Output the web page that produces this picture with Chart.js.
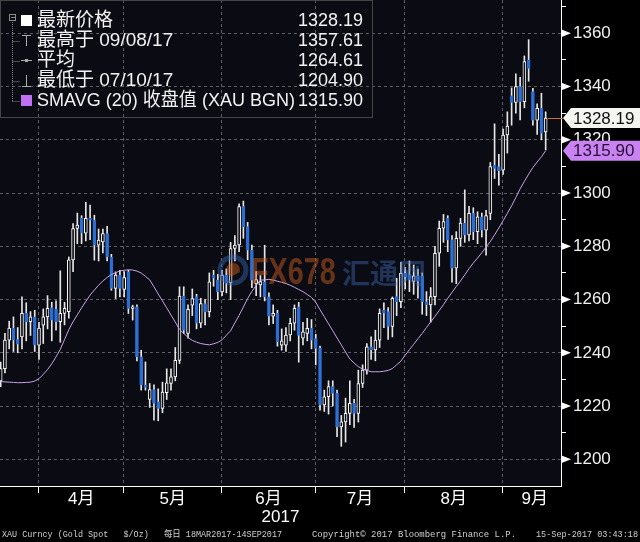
<!DOCTYPE html>
<html>
<head>
<meta charset="utf-8">
<script src="https://cdn.jsdelivr.net/npm/chart.js@4.4.0/dist/chart.umd.min.js"></script>
<style>
  html, body { margin: 0; padding: 0; background: #000; }
  #wrap { width: 640px; height: 542px; position: relative; }
</style>
</head>
<body>
<div id="wrap"><canvas id="myChart"></canvas></div>
<script>
// trading days 18MAR2017 - 14SEP2017
const days = [
  '03/20','03/21','03/22','03/23','03/24','03/27','03/28','03/29','03/30','03/31',
  '04/03','04/04','04/05','04/06','04/07','04/10','04/11','04/12','04/13','04/14',
  '04/17','04/18','04/19','04/20','04/21','04/24','04/25','04/26','04/27','04/28',
  '05/01','05/02','05/03','05/04','05/05','05/08','05/09','05/10','05/11','05/12',
  '05/15','05/16','05/17','05/18','05/19','05/22','05/23','05/24','05/25','05/26',
  '05/29','05/30','05/31',
  '06/01','06/02','06/05','06/06','06/07','06/08','06/09','06/12','06/13','06/14',
  '06/15','06/16','06/19','06/20','06/21','06/22','06/23','06/26','06/27','06/28',
  '06/29','06/30',
  '07/03','07/04','07/05','07/06','07/07','07/10','07/11','07/12','07/13','07/14',
  '07/17','07/18','07/19','07/20','07/21','07/24','07/25','07/26','07/27','07/28','07/31',
  '08/01','08/02','08/03','08/04','08/07','08/08','08/09','08/10','08/11','08/14',
  '08/15','08/16','08/17','08/18','08/21','08/22','08/23','08/24','08/25','08/28',
  '08/29','08/30','08/31',
  '09/01','09/04','09/05','09/06','09/07','09/08','09/11','09/12','09/13','09/14'
];

const opens = [
  1229.5,1234.1,1244.8,1249.3,1245.0,1246.0,1254.8,1251.7,1253.5,1242.9,
  1250.4,1253.5,1257.0,1256.4,1251.7,1254.8,1255.5,1274.9,1286.7,1290.5,
  1284.9,1290.5,1289.8,1280.4,1281.7,1284.8,1276.0,1264.2,1269.2,1263.8,
  1270.4,1256.7,1257.3,1238.5,1227.9,1222.5,1226.2,1221.6,1219.1,1225.0,
  1228.5,1231.0,1237.2,1261.3,1247.3,1257.9,1261.1,1251.1,1258.5,1255.4,
  1269.2,1267.3,1262.9,
  1269.2,1266.3,1279.2,1280.5,1294.9,1287.4,1278.6,1266.0,1265.5,1266.7,
  1261.0,1253.8,1254.8,1242.9,1242.9,1246.7,1251.1,1257.3,1245.5,1247.3,
  1249.2,1245.4,
  1241.7,1220.4,1223.5,1227.3,1224.8,1212.2,1214.1,1217.3,1221.0,1217.3,
  1228.5,1233.5,1242.3,1241.1,1244.8,1256.1,1255.5,1249.9,1261.1,1259.2,1269.9,
  1269.3,1266.8,1268.9,1268.9,1259.2,1258.0,1261.1,1277.4,1286.8,1290.5,
  1282.4,1271.8,1283.0,1288.7,1284.3,1292.4,1285.5,1291.1,1286.1,1292.4,
  1310.5,1309.9,1308.6,
  1321.8,1336.5,1334.0,1340.0,1334.3,1350.0,1338.1,1327.4,1331.8,1323.0
];
const highs = [
  1236.5,1247.3,1251.9,1253.5,1249.5,1261.0,1258.8,1255.5,1256.0,1251.5,
  1256.5,1261.5,1259.0,1259.5,1270.8,1259.0,1276.0,1288.5,1292.5,1291.5,
  1296.5,1295.5,1291.7,1286.5,1286.5,1287.5,1277.0,1270.4,1271.0,1270.5,
  1271.0,1257.9,1258.0,1241.0,1236.6,1228.5,1228.0,1226.5,1229.0,1234.0,
  1234.0,1242.0,1264.8,1264.8,1258.0,1264.0,1262.0,1260.5,1260.0,1270.0,
  1271.0,1269.5,1271.0,
  1271.5,1281.5,1284.0,1296.0,1297.0,1289.0,1280.5,1270.5,1269.0,1280.4,
  1262.5,1258.0,1256.0,1249.0,1249.5,1253.0,1258.0,1259.0,1251.5,1253.0,
  1252.5,1247.0,
  1242.5,1226.0,1229.5,1229.5,1226.0,1216.5,1223.0,1229.5,1222.5,1233.5,
  1235.5,1243.5,1246.0,1248.5,1256.5,1258.8,1257.0,1261.0,1268.0,1274.0,1272.0,
  1274.5,1273.0,1271.5,1270.0,1263.0,1264.5,1280.0,1289.5,1292.0,1291.5,
  1284.0,1285.5,1290.5,1301.2,1295.0,1294.5,1293.0,1292.5,1293.5,1311.5,
  1326.0,1314.5,1324.0,
  1330.5,1339.5,1344.8,1343.5,1351.5,1357.61,1339.3,1333.5,1337.5,1330.5
];
const lows = [
  1227.3,1232.5,1241.5,1240.5,1240.0,1241.5,1244.5,1246.5,1240.5,1237.5,
  1243.5,1249.0,1244.5,1248.5,1244.0,1250.5,1253.0,1270.5,1281.0,1281.0,
  1282.0,1282.5,1274.8,1274.5,1277.5,1274.5,1263.5,1260.4,1261.0,1261.0,
  1254.8,1252.3,1237.0,1226.0,1226.0,1219.5,1214.7,1214.5,1217.5,1222.5,
  1226.0,1229.5,1236.0,1247.3,1245.5,1254.0,1249.0,1249.5,1250.5,1253.5,
  1265.0,1260.0,1261.5,
  1262.5,1260.0,1274.5,1278.0,1283.0,1275.0,1264.5,1261.5,1261.0,1259.5,
  1250.5,1251.0,1242.5,1241.0,1240.5,1244.5,1248.5,1236.5,1243.0,1244.5,
  1241.5,1235.5,
  1218.5,1218.0,1217.0,1220.0,1208.5,1204.9,1206.5,1213.0,1212.0,1214.0,
  1227.0,1232.0,1237.5,1237.0,1242.0,1249.5,1245.0,1246.0,1254.0,1257.0,1264.0,
  1263.0,1262.0,1260.5,1254.5,1254.0,1251.5,1258.0,1272.5,1281.5,1278.0,
  1266.5,1266.0,1280.0,1281.5,1282.0,1282.5,1281.0,1283.5,1276.7,1290.0,
  1305.5,1303.0,1307.0,
  1315.0,1325.5,1330.0,1327.5,1332.0,1342.0,1325.5,1322.0,1320.0,1316.2
];
const closes = [
  1234.1,1244.8,1249.3,1244.8,1243.3,1254.8,1251.7,1253.5,1242.9,1249.3,
  1253.5,1256.7,1252.3,1251.7,1254.8,1256.7,1274.9,1286.7,1288.0,1284.9,
  1290.5,1289.8,1280.4,1282.3,1284.8,1276.0,1264.2,1269.2,1264.2,1268.3,
  1256.7,1257.3,1238.5,1227.9,1227.0,1226.2,1221.0,1219.1,1225.3,1228.7,
  1231.0,1237.2,1261.3,1248.5,1256.3,1260.4,1251.1,1258.5,1255.4,1266.7,
  1268.0,1262.9,1269.2,
  1266.3,1279.2,1280.5,1294.9,1287.4,1278.6,1267.3,1267.5,1266.8,1261.0,
  1253.8,1254.8,1244.1,1244.5,1246.7,1251.1,1256.7,1246.5,1247.9,1249.2,
  1244.8,1241.7,
  1220.4,1223.5,1227.3,1224.8,1212.2,1214.1,1217.3,1221.0,1217.3,1228.5,
  1233.5,1242.3,1241.1,1244.8,1254.8,1254.9,1249.9,1260.5,1259.2,1269.9,1268.6,
  1267.4,1268.9,1266.8,1259.2,1258.0,1261.1,1277.4,1286.8,1289.3,1282.4,
  1271.8,1283.0,1288.7,1284.3,1292.4,1285.5,1291.1,1286.1,1291.5,1309.9,
  1309.3,1308.4,1321.8,
  1325.2,1334.0,1340.0,1334.3,1349.4,1346.8,1327.4,1331.8,1322.4,1328.19
];
// SMAVG (20)
const sma20 = [
  1229.2,1229.1,1229.0,1228.9,1228.8,1228.8,1228.9,1229.0,1229.4,1230.3,
  1231.9,1233.7,1235.9,1238.5,1241.3,1245.0,1248.7,1251.7,1254.3,1256.9,
  1259.3,1261.7,1263.6,1265.4,1267.0,1268.3,1269.4,1270.1,1270.8,1271.0,
  1271.2,1271.1,1270.7,1270.0,1268.7,1267.4,1264.8,1262.1,1259.5,1256.9,
  1254.2,1251.6,1248.8,1247.3,1245.8,1244.7,1244.0,1243.5,1243.2,1243.0,
  1243.4,1243.9,1244.9,
  1246.6,1248.3,1251.2,1254.1,1257.2,1260.4,1263.1,1265.3,1267.3,1267.4,
  1267.6,1267.3,1266.9,1266.5,1266.0,1265.4,1264.6,1263.8,1263.0,1261.9,
  1260.8,1259.0,
  1256.2,1253.6,1250.9,1248.3,1245.6,1243.0,1240.3,1237.7,1236.2,1234.8,
  1233.9,1233.4,1232.9,1232.9,1232.9,1233.1,1233.4,1234.1,1235.5,1236.9,1239.1,
  1241.2,1243.2,1245.3,1247.3,1249.5,1251.6,1253.7,1255.9,1258.1,1260.5,
  1262.7,1264.9,1267.0,1269.3,1271.6,1273.7,1275.6,1277.6,1279.7,1281.8,
  1284.3,1286.9,1289.6,
  1292.4,1295.2,1298.4,1301.6,1304.4,1307.1,1309.6,1311.7,1313.6,1315.9
];

const monthNums = ['04','05','06','07','08','09'];
const monthLabels = ['4月','5月','6月','7月','8月','9月'];
const yTickValues = [1200,1210,1220,1230,1240,1250,1260,1270,1280,1290,1300,1310,1320,1330,1340,1350,1360,1370];

const legendLabels = ['最新价格','最高于 09/08/17','平均','最低于 07/10/17','SMAVG (20) 收盘值 (XAU BGN)'];
const legendValues = ['1328.19','1357.61','1264.61','1204.90','1315.90'];

const footer = ['XAU Curncy (Gold Spot   $/Oz)   每日 18MAR2017-14SEP2017',
                'Copyright© 2017 Bloomberg Finance L.P.',
                '15-Sep-2017 03:43:18'];

const SANS = '"Liberation Sans", "Noto Sans CJK SC", sans-serif';
const PLOT_BG = '#0b0b13';
const BLUE = '#2b6fd4';
const MA_COLOR = '#c9a2e8';
const TAG_PURPLE = '#c883f0';

const X_MIN = -0.16, X_MAX = 131.6;

// month boundaries sit on the last trading day of the previous month
const monthGrid = monthNums.map(m => days.findIndex(d => d.startsWith(m)) - 1.1);
const monthMid = monthGrid.map((g, i) => i < monthGrid.length - 1 ? (g + monthGrid[i + 1]) / 2 : (g + days.length + 4) / 2);

const wickData = days.map((d, i) => ({x: i, y: [lows[i], highs[i]]}));
const bodyData = days.map((d, i) => ({x: i, y: [opens[i], closes[i]]}));
const smaData = days.map((d, i) => ({x: i, y: sma20[i]}));
const isUp = i => closes[i] >= opens[i];

const backdrop = {
  id: 'backdrop',
  beforeDraw(chart) {
    const {ctx, chartArea: a} = chart;
    ctx.save();
    ctx.fillStyle = '#000';
    ctx.fillRect(0, 0, chart.width, chart.height);
    ctx.fillStyle = PLOT_BG;
    ctx.fillRect(a.left, a.top, a.right - a.left, a.bottom - a.top);
    ctx.restore();
  }
};

const watermark = {
  id: 'watermark',
  afterDatasetsDraw(chart) {
    const ctx = chart.ctx;
    ctx.save();
    ctx.globalAlpha = 0.45;
    ctx.strokeStyle = '#3566b4';
    ctx.lineWidth = 5;
    ctx.beginPath(); ctx.arc(233, 270, 13, 0, Math.PI * 2); ctx.stroke();
    ctx.fillStyle = '#d8641e';
    ctx.beginPath(); ctx.arc(233, 270, 7, Math.PI * 0.6, Math.PI * 2.1); ctx.fill();
    ctx.font = 'bold 36px "Liberation Sans"';
    ctx.textBaseline = 'alphabetic';
    ctx.translate(251, 284);
    ctx.scale(0.8, 1);
    ctx.fillText('FX678', 0, 0);
    ctx.setTransform(1, 0, 0, 1, 0, 0);
    ctx.fillStyle = '#3a68b0';
    ctx.font = 'bold 28px "Noto Sans CJK SC"';
    ctx.fillText('汇通网', 342, 284);
    ctx.restore();
  }
};

const overlay = {
  id: 'overlay',
  afterDraw(chart) {
    const ctx = chart.ctx;
    const y = chart.scales.y;
    const x = chart.scales.x;
    const axisX = chart.chartArea.right;
    ctx.save();

    // triangles on labelled ticks
    ctx.fillStyle = '#fff';
    yTickValues.filter(v => v % 20 === 0).forEach(v => {
      const py = y.getPixelForValue(v);
      ctx.beginPath();
      ctx.moveTo(axisX, py - 4); ctx.lineTo(axisX + 10, py); ctx.lineTo(axisX, py + 4);
      ctx.closePath(); ctx.fill();
    });

    // last price line + tags
    const last = days.length - 1;
    const pyLast = Math.round(y.getPixelForValue(closes[last])) + 0.5;
    ctx.strokeStyle = '#d2701e';
    ctx.lineWidth = 1;
    ctx.beginPath(); ctx.moveTo(x.getPixelForValue(last) + 2, pyLast); ctx.lineTo(axisX + 2, pyLast); ctx.stroke();

    const tag = (val, fill, textColor) => {
      const py = y.getPixelForValue(val);
      ctx.fillStyle = fill;
      ctx.beginPath();
      ctx.moveTo(axisX + 2, py);
      ctx.lineTo(axisX + 10, py - 10);
      ctx.lineTo(640, py - 10);
      ctx.lineTo(640, py + 10);
      ctx.lineTo(axisX + 10, py + 10);
      ctx.closePath(); ctx.fill();
      ctx.fillStyle = textColor;
      ctx.font = '17px ' + SANS;
      ctx.textBaseline = 'middle';
      ctx.textAlign = 'left';
      ctx.fillText(val.toFixed(2), axisX + 12, py + 1);
    };
    tag(closes[last], '#f4f4f0', '#111');
    tag(sma20[last], TAG_PURPLE, '#2a0c3a');

    // legend box
    ctx.strokeStyle = '#454545';
    ctx.strokeRect(0.5, 0.5, 372, 117);
    ctx.strokeStyle = '#8a8a8a';
    ctx.setLineDash([1, 1]);
    ctx.beginPath();
    ctx.moveTo(12.5, 22); ctx.lineTo(12.5, 101);
    [41, 61, 81, 101].forEach(r => { ctx.moveTo(12.5, r + 0.5); ctx.lineTo(20, r + 0.5); });
    ctx.stroke();
    ctx.setLineDash([]);
    ctx.strokeRect(9.5, 14.5, 6, 6);
    ctx.beginPath(); ctx.moveTo(11, 17.5); ctx.lineTo(15, 17.5); ctx.stroke();
    ctx.fillStyle = '#fff';
    ctx.fillRect(21, 15, 11, 11);
    ctx.strokeStyle = '#aaa';
    ctx.beginPath();
    ctx.moveTo(22, 35.5); ctx.lineTo(31, 35.5); ctx.moveTo(26.5, 35); ctx.lineTo(26.5, 46);
    ctx.moveTo(21, 60.5); ctx.lineTo(32, 60.5);
    ctx.moveTo(26.5, 75); ctx.lineTo(26.5, 86); ctx.moveTo(22, 86.5); ctx.lineTo(31, 86.5);
    ctx.stroke();
    ctx.fillStyle = '#aaa';
    ctx.fillRect(25, 59, 3, 3);
    ctx.fillStyle = '#c070f0';
    ctx.fillRect(21, 95, 11, 11);

    ctx.textBaseline = 'middle';
    ctx.fillStyle = '#f2f2f2';
    legendLabels.forEach((t, i) => {
      const ry = 21 + i * 20;
      ctx.font = '19px ' + SANS;
      ctx.textAlign = 'left';
      ctx.fillText(t, 37, ry, 258);
      ctx.font = '18px ' + SANS;
      ctx.textAlign = 'right';
      ctx.fillText(legendValues[i], 363, ry);
    });

    // footer
    ctx.fillStyle = '#cfcfcf';
    ctx.font = '9px "Liberation Mono", "Noto Sans CJK SC", monospace';
    ctx.textBaseline = 'middle';
    ctx.textAlign = 'left';
    ctx.fillText(footer[0], 2, 535, 280);
    ctx.fillText(footer[1], 312, 535, 204);
    ctx.textAlign = 'right';
    ctx.fillText(footer[2], 638, 535, 102);
    ctx.restore();
  }
};

const ctx = document.querySelector('#myChart');

new Chart(ctx, {
  type: 'bar',
  data: {
    datasets: [{
      label: 'wick',
      data: wickData,
      backgroundColor: '#e6e6e6',
      borderWidth: 0,
      barThickness: 1,
      grouped: false,
      order: 3
    }, {
      label: 'body',
      data: bodyData,
      backgroundColor: c => isUp(c.dataIndex) ? PLOT_BG : BLUE,
      borderColor: c => isUp(c.dataIndex) ? '#ffffff' : BLUE,
      borderWidth: 1,
      borderSkipped: false,
      barThickness: 3,
      minBarLength: 1,
      grouped: false,
      order: 2
    }, {
      type: 'line',
      label: 'SMAVG (20)',
      data: smaData,
      borderColor: MA_COLOR,
      borderWidth: 1,
      pointRadius: 0,
      tension: 0,
      order: 1
    }]
  },
  options: {
    responsive: true,
    maintainAspectRatio: false,
    animation: false,
    devicePixelRatio: 1,
    layout: { autoPadding: false, padding: { left: 0, right: 0, top: 0, bottom: 14 } },
    plugins: { legend: { display: false }, tooltip: { enabled: false } },
    scales: {
      x: {
        type: 'linear', position: 'bottom', min: X_MIN, max: X_MAX, offset: false, weight: 1,
        afterBuildTicks: s => { s.ticks = monthMid.map(v => ({value: v})); },
        afterFit: s => { s.height = 42; s.paddingLeft = 0; s.paddingRight = 0; },
        ticks: {
          autoSkip: false, maxRotation: 0, padding: 3, color: '#ffffff',
          font: { family: SANS, size: 17 },
          callback: (v, i) => monthLabels[i]
        },
        grid: { display: false, drawTicks: false, offset: false },
        border: { display: false },
        title: { display: true, text: '2017', color: '#ffffff', font: { family: SANS, size: 17 }, padding: 0 }
      },
      xg: {
        type: 'linear', position: 'bottom', min: X_MIN, max: X_MAX, offset: false, weight: 0,
        afterBuildTicks: s => { s.ticks = monthGrid.map(v => ({value: v})); },
        afterFit: s => { s.height = 0; s.paddingLeft = 0; s.paddingRight = 0; },
        ticks: { display: false },
        grid: { color: '#5e5e5e', lineWidth: 1, drawTicks: true, tickLength: 7, tickColor: '#ffffff', tickBorderDash: [], offset: false },
        border: { display: true, color: '#ffffff', width: 1, dash: [3, 3] }
      },
      y: {
        type: 'linear', position: 'right', min: 1190, max: 1372.5, beginAtZero: false,
        afterBuildTicks: s => { s.ticks = yTickValues.map(v => ({value: v})); },
        afterFit: s => { s.width = 79; s.paddingTop = 0; s.paddingBottom = 0; },
        ticks: {
          autoSkip: false, padding: 7, color: '#f0f0f0',
          font: { family: SANS, size: 17 },
          callback: v => v % 20 === 0 ? String(v) : ''
        },
        grid: {
          color: c => c.tick && c.tick.value % 20 === 0 ? '#5e5e5e' : 'rgba(0,0,0,0)',
          drawTicks: true, tickLength: 5, tickColor: '#ffffff', tickBorderDash: []
        },
        border: { display: true, color: '#ffffff', width: 1, dash: [3, 3] }
      }
    }
  },
  plugins: [backdrop, watermark, overlay]
});
</script>
</body>
</html>
